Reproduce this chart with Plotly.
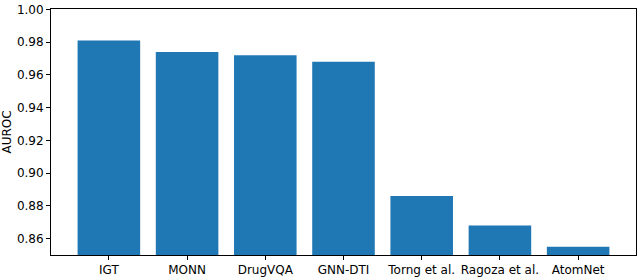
import plotly.graph_objects as go

methods = ["IGT", "MONN", "DrugVQA", "GNN-DTI", "Torng et al.", "Ragoza et al.", "AtomNet"]
auroc = [0.981, 0.974, 0.972, 0.968, 0.886, 0.868, 0.855]
y_ticks = [0.86, 0.88, 0.90, 0.92, 0.94, 0.96, 0.98, 1.00]

fig = go.Figure(go.Bar(
    x=list(range(len(methods))), y=auroc, width=0.8,
    marker=dict(color="#1f77b4", line=dict(width=0)),
))

axis_common = dict(showline=True, linecolor="black", linewidth=1, mirror=True,
                   ticks="outside", ticklen=4, tickcolor="black", showgrid=False,
                   zeroline=False, tickfont=dict(family="DejaVu Sans", size=12, color="black"))

fig.update_layout(
    width=640, height=280,
    margin=dict(l=51, r=3, t=7, b=22),
    plot_bgcolor="white", paper_bgcolor="white",
    showlegend=False,
    xaxis=dict(range=[-0.74, 6.74], tickmode="array", tickvals=list(range(len(methods))),
               ticktext=methods, **axis_common),
    yaxis=dict(range=[0.85, 1.0002], tickmode="array", tickvals=y_ticks,
               ticktext=[f"{v:.2f}" for v in y_ticks],
               title=dict(text="AUROC", font=dict(family="DejaVu Sans", size=12, color="black"), standoff=4),
               **axis_common),
)

fig.write_html("out.html", config={"displayModeBar": False},
               post_script="document.body.style.margin='0';document.body.style.overflow='hidden';")
